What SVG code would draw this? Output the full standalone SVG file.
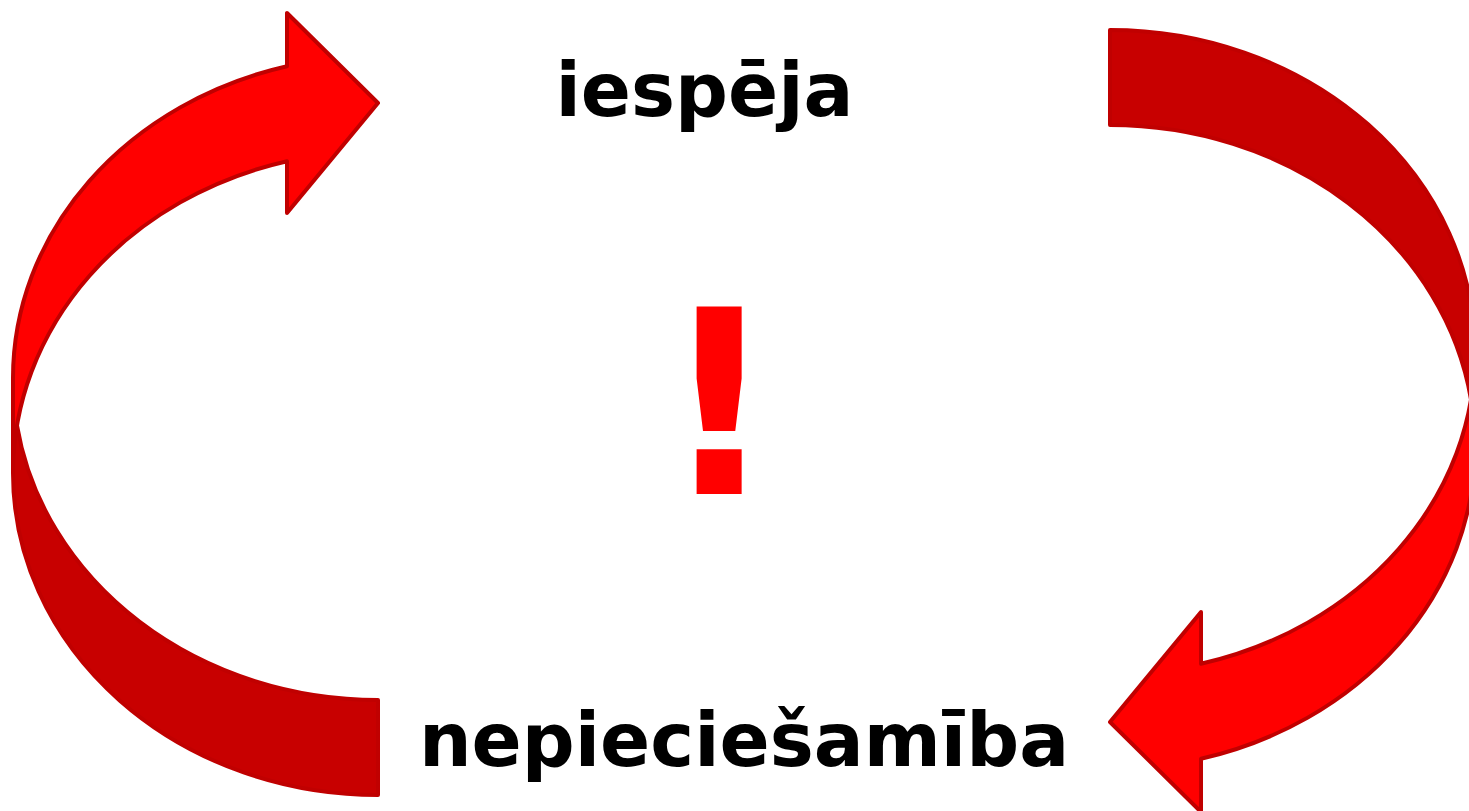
<svg xmlns="http://www.w3.org/2000/svg" xmlns:xlink="http://www.w3.org/1999/xlink" width="1469" height="811" viewBox="0 0 1469 811">
  <style>
    .front { fill: #FF0000; stroke: none; }
    .back { fill: #C80000; stroke: none; }
    .outline { fill: none; stroke: #C00000; stroke-width: 4; stroke-linejoin: round; stroke-linecap: round; }
    .label { font-family: "DejaVu Sans", "Verdana", sans-serif; font-weight: bold; font-size: 74px; fill: #000000; text-anchor: middle; }
    .bang { font-family: "DejaVu Sans", "Verdana", sans-serif; font-weight: bold; font-size: 256px; fill: #FF0000; text-anchor: middle; }
  </style>
  <defs>
    <g id="curvedArrow">
      <path class="front" d="M 13,473 A 365 322 0 0 1 287,161.2 L 287,213 L 378,103 L 287,13 L 287,66.2 A 365 322 0 0 0 13,378 Z"/>
      <path class="back" d="M 378,700 A 365 322 0 0 1 17,425.5 A 365 322 0 0 0 378,795 Z"/>
      <path class="outline" d="M 13,473 A 365 322 0 0 1 287,161.2 L 287,213 L 378,103 L 287,13 L 287,66.2 A 365 322 0 0 0 13,378 L 13,473 A 365 322 0 0 0 378,795 L 378,700 A 365 322 0 0 1 17,425.5"/>
    </g>
  </defs>
  <rect x="0" y="0" width="1469" height="811" fill="#FFFFFF"/>
  <g id="connectors">
    <use id="arrow-left" xlink:href="#curvedArrow" href="#curvedArrow"/>
    <use id="arrow-right" xlink:href="#curvedArrow" href="#curvedArrow" transform="rotate(180 744 412.5)"/>
  </g>
  <g id="node-iespeja">
    <text class="label" x="704.5" y="116">iespēja</text>
  </g>
  <g id="node-nepieciesamiba">
    <text class="label" x="744" y="766">nepieciešamība</text>
  </g>
  <g id="node-exclamation">
    <text class="bang" x="719" y="494">!</text>
  </g>
</svg>
